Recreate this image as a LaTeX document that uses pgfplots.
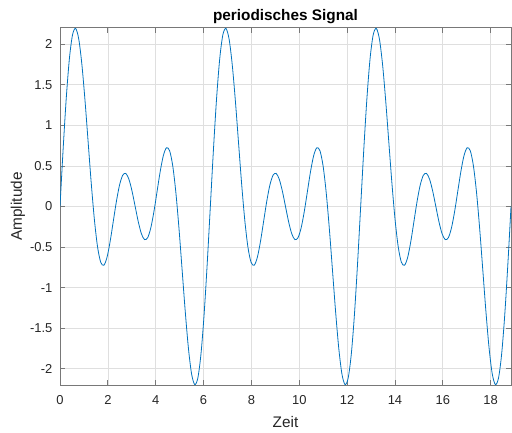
\documentclass[border=0pt]{standalone}
\usepackage{pgfplots}
\pgfplotsset{compat=1.18}
\usepackage{fontspec}
\setmainfont{Liberation Sans}
\definecolor{mblue}{RGB}{0,114,189}
\definecolor{maxis}{RGB}{120,120,120}
\definecolor{mgrid}{RGB}{223,223,223}
\definecolor{mtext}{RGB}{38,38,38}
\begin{document}
\begin{tikzpicture}
\begin{axis}[
  scale only axis,
  width=338.25pt, height=267.75pt,
  xmin=0, xmax=18.8496, ymin=-2.2, ymax=2.2,
  xtick={0,2,...,18},
  ytick={-2,-1.5,-1,-0.5,0,0.5,1,1.5,2},
  /pgf/number format/assume math mode=true,
  tick label style={font=\fontsize{9.7}{11}\selectfont, text=mtext},
  yticklabel style={inner sep=0pt, anchor=east, xshift=-5.5pt},
  xticklabel style={inner sep=0pt, anchor=north, yshift=-7.5pt},
  tick align=inside,
  major tick length=3.75pt,
  every tick/.style={maxis, line width=0.6pt},
  axis line style={maxis, line width=0.75pt},
  grid=major,
  major grid style={mgrid, line width=0.5pt},
  every axis title shift=0pt,
  title={\bfseries periodisches Signal},
  title style={font=\fontsize{11.5}{13}\selectfont, text=black, at={(axis description cs:0.5,1.032)}, anchor=center, inner sep=0pt},
  xlabel={Zeit},
  ylabel={Amplitude},
  xlabel style={font=\fontsize{11.5}{13}\selectfont, text=mtext, at={(axis description cs:0.5,-0.1036)}, anchor=center, inner sep=0pt},
  ylabel style={font=\fontsize{11.5}{13}\selectfont, text=mtext, at={(axis description cs:-0.0931,0.5)}, anchor=center, rotate=0, inner sep=0pt},
]
\addplot[mblue, line width=0.6pt, smooth, tension=0.5] coordinates {
(0,0) (0.1309,0.70676) (0.2618,1.33652) (0.3927,1.82233) (0.5236,2.11603) (0.6545,2.19419) (0.7854,2.06066) (0.9163,1.74529) (1.0472,1.29904) (1.1781,0.78637) (1.3090,0.27585) (1.4399,-0.16934) (1.5708,-0.5) (1.7017,-0.68698) (1.8326,-0.72415) (1.9635,-0.62785) (2.0944,-0.43302) (2.2253,-0.18657) (2.3562,0.06066) (2.4871,0.26233) (2.6180,0.38397) (2.7489,0.40811) (2.8798,0.33652) (3.0107,0.18912) (3.1416,0)
(3.2725,-0.18912) (3.4034,-0.33652) (3.5343,-0.40811) (3.6652,-0.38397) (3.7961,-0.26233) (3.9270,-0.06066) (4.0579,0.18657) (4.1888,0.43302) (4.3197,0.62785) (4.4506,0.72415) (4.5815,0.68698) (4.7124,0.5) (4.8433,0.16934) (4.9742,-0.27585) (5.1051,-0.78637) (5.2360,-1.29904) (5.3669,-1.74529) (5.4978,-2.06066) (5.6287,-2.19419) (5.7596,-2.11603) (5.8905,-1.82233) (6.0214,-1.33652) (6.1523,-0.70676) (6.2832,0)
(6.4141,0.70676) (6.5450,1.33652) (6.6759,1.82233) (6.8068,2.11603) (6.9377,2.19419) (7.0686,2.06066) (7.1995,1.74529) (7.3304,1.29904) (7.4613,0.78637) (7.5922,0.27585) (7.7231,-0.16934) (7.8540,-0.5) (7.9849,-0.68698) (8.1158,-0.72415) (8.2467,-0.62785) (8.3776,-0.43302) (8.5085,-0.18657) (8.6394,0.06066) (8.7703,0.26233) (8.9012,0.38397) (9.0321,0.40811) (9.1630,0.33652) (9.2939,0.18912) (9.4248,0)
(9.5557,-0.18912) (9.6866,-0.33652) (9.8175,-0.40811) (9.9484,-0.38397) (10.0793,-0.26233) (10.2102,-0.06066) (10.3411,0.18657) (10.4720,0.43302) (10.6029,0.62785) (10.7338,0.72415) (10.8647,0.68698) (10.9956,0.5) (11.1265,0.16934) (11.2574,-0.27585) (11.3883,-0.78637) (11.5192,-1.29904) (11.6501,-1.74529) (11.7810,-2.06066) (11.9119,-2.19419) (12.0428,-2.11603) (12.1737,-1.82233) (12.3046,-1.33652) (12.4355,-0.70676) (12.5664,0)
(12.6973,0.70676) (12.8282,1.33652) (12.9591,1.82233) (13.0900,2.11603) (13.2209,2.19419) (13.3518,2.06066) (13.4827,1.74529) (13.6136,1.29904) (13.7445,0.78637) (13.8754,0.27585) (14.0063,-0.16934) (14.1372,-0.5) (14.2681,-0.68698) (14.3990,-0.72415) (14.5299,-0.62785) (14.6608,-0.43302) (14.7917,-0.18657) (14.9226,0.06066) (15.0535,0.26233) (15.1844,0.38397) (15.3153,0.40811) (15.4462,0.33652) (15.5771,0.18912) (15.7080,0)
(15.8389,-0.18912) (15.9698,-0.33652) (16.1007,-0.40811) (16.2316,-0.38397) (16.3625,-0.26233) (16.4934,-0.06066) (16.6243,0.18657) (16.7552,0.43302) (16.8861,0.62785) (17.0170,0.72415) (17.1479,0.68698) (17.2788,0.5) (17.4097,0.16934) (17.5406,-0.27585) (17.6715,-0.78637) (17.8024,-1.29904) (17.9333,-1.74529) (18.0642,-2.06066) (18.1951,-2.19419) (18.3260,-2.11603) (18.4569,-1.82233) (18.5878,-1.33652) (18.7187,-0.70676) (18.8496,0)
};
\end{axis}
\pgfresetboundingbox
\path[use as bounding box] ([xshift=-45pt,yshift=-35.25pt]current axis.south west) rectangle ([xshift=0.75pt,yshift=21pt]current axis.north east);
\end{tikzpicture}
\end{document}
